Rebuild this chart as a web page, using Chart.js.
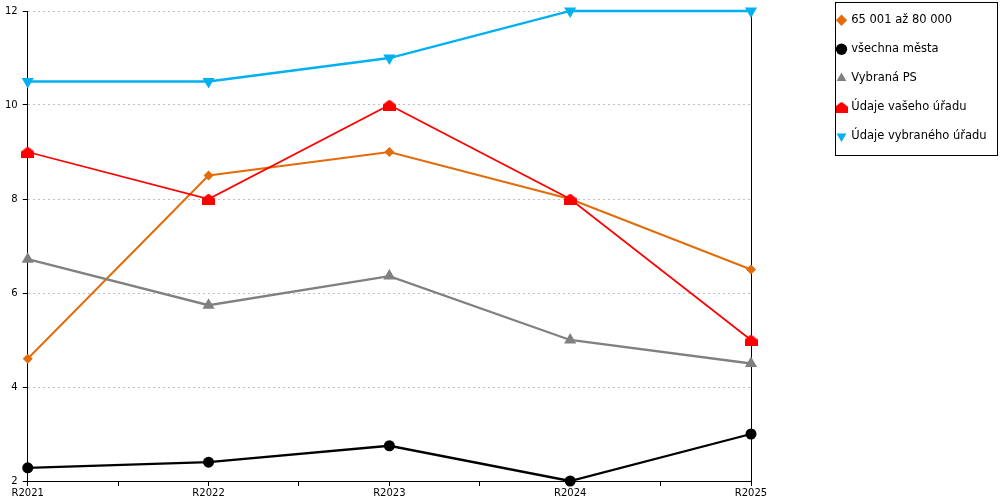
<!DOCTYPE html>
<html>
<head>
<meta charset="utf-8">
<script src="https://cdn.jsdelivr.net/npm/chart.js@4/dist/chart.umd.min.js"></script>
<style>
    body { margin: 0; background: #fff; }
    #wrap { width: 1000px; height: 500px; position: relative; }
</style>
</head>
<body>
<div id="wrap"><canvas id="lineGraph"></canvas></div>
<script>
// categories and series
let years = ['R2021', 'R2022', 'R2023', 'R2024', 'R2025'];
let seriesNames = ['65 001 až 80 000', 'všechna města', 'Vybraná PS', 'Údaje vašeho úřadu', 'Údaje vybraného úřadu'];
let sizeGroup = [4.6, 8.5, 9, 8, 6.5];
let allCities = [2.28, 2.4, 2.75, 2, 3];
let selectedPS = [6.72, 5.74, 6.36, 5, 4.5];
let yourOffice = [9, 8, 10, 8, 5];
let selectedOffice = [10.5, 10.5, 11, 12, 12];
let yTicks = [2, 4, 6, 8, 10, 12];

const axisFont = { family: 'DejaVu Sans', size: 10 };

// red "house" marker
function houseMarker(w, h, color) {
    const c = document.createElement('canvas');
    c.width = w;
    c.height = h;
    const g = c.getContext('2d');
    g.fillStyle = color;
    g.beginPath();
    g.moveTo(w / 2, 0);
    g.lineTo(w, h * 0.45);
    g.lineTo(w, h);
    g.lineTo(0, h);
    g.lineTo(0, h * 0.45);
    g.closePath();
    g.fill();
    return c;
}

function toPoints(values) {
    return values.map((v, i) => ({ x: i, y: v }));
}

function makeSet(i, values, color, style, radius, width, order, rotation) {
    return {
        label: seriesNames[i],
        data: toPoints(values),
        borderColor: color,
        backgroundColor: color,
        borderWidth: width,
        pointStyle: style,
        pointRadius: radius,
        pointBorderWidth: 0,
        rotation: rotation || 0,
        tension: 0,
        clip: false,
        order: order
    };
}

// legend sits in its own bordered box at the right
const legendBox = {
    id: 'legendBox',
    beforeInit(chart) {
        const fit = chart.legend.fit;
        chart.legend.fit = function () {
            fit.bind(chart.legend)();
            this.width = 241;
        };
    },
    afterLayout(chart) {
        const lg = chart.legend;
        const w = lg.width;
        lg.left = 820;
        lg.right = 820 + w;
        lg.top = -3;
    },
    afterDraw(chart) {
        const ctx = chart.ctx;
        ctx.save();
        ctx.strokeStyle = '#000';
        ctx.lineWidth = 1;
        ctx.strokeRect(835.5, 2.5, 162, 153);
        ctx.restore();
    }
};

const ctx = document.getElementById('lineGraph').getContext('2d');
new Chart(ctx, {
    type: 'line',
    data: {
        datasets: [
            makeSet(0, sizeGroup, '#E36C09', 'rectRot', 5, 2, 5),
            makeSet(1, allCities, '#000000', 'circle', 5.5, 2.3, 4),
            makeSet(2, selectedPS, '#808080', 'triangle', 7, 2.3, 3),
            makeSet(3, yourOffice, '#FF0000', houseMarker(13, 11, '#FF0000'), 6, 1.7, 2),
            makeSet(4, selectedOffice, '#00B0F0', 'triangle', 7, 2.3, 1, 180)
        ]
    },
    options: {
        responsive: true,
        maintainAspectRatio: false,
        animation: false,
        layout: { padding: { top: 8, left: 0, bottom: 0 } },
        plugins: {
            tooltip: { enabled: false },
            legend: {
                position: 'right',
                align: 'start',
                labels: {
                    usePointStyle: true,
                    boxWidth: 8,
                    boxHeight: 8,
                    padding: 17.5,
                    color: '#000',
                    font: { family: 'DejaVu Sans', size: 11.5 },
                    sort: (a, b) => a.datasetIndex - b.datasetIndex
                }
            }
        },
        scales: {
            x: {
                type: 'linear',
                min: 0,
                max: years.length - 1,
                grid: { drawOnChartArea: false, tickLength: 5, tickColor: '#000' },
                border: { color: '#000', width: 1 },
                ticks: {
                    stepSize: 0.5,
                    autoSkip: false,
                    maxRotation: 0,
                    padding: 1,
                    color: '#000',
                    font: axisFont,
                    callback: v => Number.isInteger(v) ? years[v] : ''
                }
            },
            y: {
                min: yTicks[0],
                max: yTicks[yTicks.length - 1],
                grid: { color: '#c0c0c0', tickLength: 5, tickColor: '#000' },
                border: { color: '#000', width: 1, dash: [2, 3] },
                ticks: { stepSize: 2, padding: 5, color: '#000', font: axisFont }
            },
            y2: {
                position: 'right',
                min: yTicks[0],
                max: yTicks[yTicks.length - 1],
                grid: { display: false },
                border: { display: true, color: '#000', width: 1 },
                ticks: { display: false }
            }
        }
    },
    plugins: [legendBox]
});
</script>
</body>
</html>
